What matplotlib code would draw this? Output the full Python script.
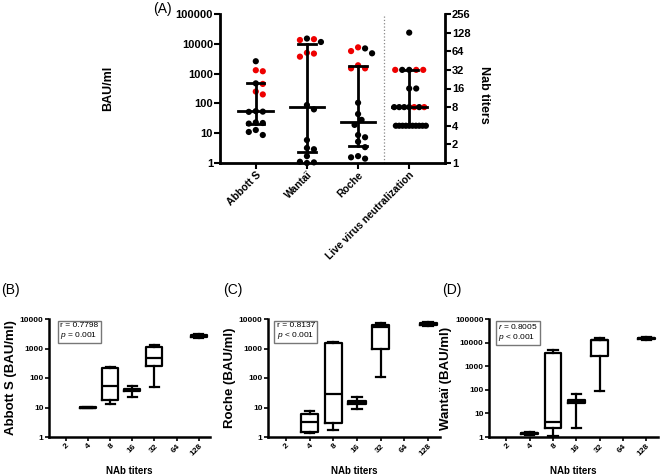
import matplotlib
matplotlib.use("Agg")
import matplotlib.pyplot as plt
import numpy as np
from matplotlib.ticker import FixedLocator, NullLocator, NullFormatter

plt.rcParams['font.family'] = ['Liberation Sans', 'DejaVu Sans']
plt.rcParams['mathtext.fontset'] = 'custom'
plt.rcParams['mathtext.it'] = 'Liberation Sans:italic'
plt.rcParams['mathtext.rm'] = 'Liberation Sans'

# ---- panel A data ----
assays = ['Abbott S', 'Wantaï', 'Roche', 'Live virus neutralization']
abbott = [2600, 1300, 1200, 470, 450, 250, 200, 55, 53, 52, 23, 22, 21, 12.8, 8.7, 11]
abbott_red = [0, 1, 1, 0, 1, 1, 1, 0, 0, 0, 0, 0, 0, 0, 0, 0]
wantai = [15000, 14300, 13400, 11500, 5000, 4700, 3700, 88, 63, 5.9, 3.2, 2.9, 1.7, 1.0, 1.05, 1.1]
wantai_red = [0, 1, 1, 0, 1, 1, 1, 0, 0, 0, 0, 0, 0, 0, 0, 0]
roche = [7600, 7000, 5700, 4800, 1900, 1500, 1500, 105, 44, 28, 19, 8.7, 7.3, 5.2, 3.4, 1.7, 1.4, 1.55]
roche_red = [1, 0, 1, 0, 1, 1, 1, 0, 0, 0, 0, 0, 0, 0, 0, 0, 0, 0]
live = [128, 32, 32, 32, 32, 32, 16, 16, 8, 8, 8, 8, 8, 8, 8,
        4, 4, 4, 4, 4, 4, 4, 4, 4, 4]
live_red = [0, 0, 1, 0, 1, 1, 0, 0, 0, 1, 0, 0, 0, 1, 0,
            0, 0, 0, 0, 0, 0, 0, 0, 0, 0]
medians = [55, 75, 24, 8]
q1s = [21, 2.4, 3.7, 4]
q3s = [500, 10000, 1800, 32]

# ---- panels B-D data: (whislo, q1, med, q3, whishi) per NAb titer ----
titers = ['2', '4', '8', '16', '32', '64', '128']
abbott_box = {'4': (9.4, 9.7, 10, 10.3, 10.6), '8': (13, 18, 55, 210, 240),
              '16': (22, 35, 38, 42, 55), '32': (48, 260, 480, 1150, 1300),
              '128': (2300, 2450, 2600, 2800, 3100)}
roche_box = {'4': (1.4, 1.5, 3.2, 6, 7.5), '8': (1.7, 2.9, 28, 1550, 1700),
             '16': (9, 13, 15, 17, 22), '32': (105, 1000, 5200, 6500, 7500),
             '128': (6000, 6500, 7000, 7300, 7800)}
wantai_box = {'4': (1.2, 1.35, 1.45, 1.55, 1.65), '8': (1.1, 2.4, 4.5, 3800, 5000),
              '16': (2.3, 28, 32, 36, 65), '32': (88, 2700, 12500, 13500, 15000),
              '128': (13000, 14000, 15000, 16000, 18000)}

W, H = 667, 476
fig = plt.figure(figsize=(W / 100, H / 100), dpi=100)


def swarm(ax, x0, vals, step, maxw):
    # greedy beeswarm in pixel space; rows of ties are squeezed into maxw
    pix = ax.transData.transform([(x0, v) for v in vals])
    placed = []
    for px, py in pix:
        k = 0
        while True:
            cands = [0] if k == 0 else [k * step * 0.5, -k * step * 0.5]
            ok = None
            for dx in cands:
                if all((px + dx - qx) ** 2 + (py - qy) ** 2 >= (step * 0.95) ** 2 for qx, qy in placed):
                    ok = dx
                    break
            if ok is not None:
                placed.append([px + ok, py])
                break
            k += 1
    # squeeze wide rows
    placed = np.array(placed)
    for y in np.unique(np.round(placed[:, 1], 1)):
        m = np.abs(placed[:, 1] - y) < 0.5
        span = placed[m, 0].max() - placed[m, 0].min()
        if span > maxw:
            cx = pix[0][0]
            placed[m, 0] = cx + (placed[m, 0] - cx) * maxw / span
    inv = ax.transData.inverted()
    return [inv.transform(p)[0] for p in placed]


# ---- panel A ----
ax = fig.add_axes([220 / W, 1 - 163 / H, 225 / W, 149 / H])
ax.set_yscale('log')
ax.set_ylim(1, 100000)
ax.set_xlim(-0.7, 3.7)
ax2 = ax.twinx()
ax2.set_yscale('log', base=2)
ax2.set_ylim(1, 256)

bold = dict(fontweight='bold')
for a in (ax, ax2):
    a.spines['top'].set_visible(False)
    for s in ['left', 'right', 'bottom']:
        a.spines[s].set_linewidth(2)
ax.spines['right'].set_visible(False)
ax2.spines['left'].set_visible(False)
ax2.spines['bottom'].set_visible(False)

ax.set_xticks(range(4))
ax.set_xticklabels(assays, rotation=45, ha='right', rotation_mode='anchor', fontsize=7.5, **bold)
ax.set_yticks([1, 10, 100, 1000, 10000, 100000])
ax.set_yticklabels(['1', '10', '100', '1000', '10000', '100000'], fontsize=8, **bold)
ax.tick_params(axis='both', which='major', length=4, width=1.5, pad=1)
ax.tick_params(axis='y', which='minor', length=2, width=0.8)
ax.set_ylabel('BAU/ml', fontsize=9, **bold)
ax.yaxis.set_label_coords(-0.47, 0.5)

ticks2 = [1, 2, 4, 8, 16, 32, 64, 128, 256]
ax2.yaxis.set_major_locator(FixedLocator(ticks2))
ax2.yaxis.set_minor_locator(NullLocator())
ax2.set_yticklabels([str(t) for t in ticks2], fontsize=8, **bold)
ax2.tick_params(axis='y', length=4, width=1.5, pad=1)
ax2.set_ylabel('Nab titers', fontsize=9, rotation=270, **bold)
ax2.yaxis.set_label_coords(1.2, 0.46)

ax.axvline(2.5, color='#888888', lw=0.9, ls=':')

groups = [(ax, abbott, abbott_red), (ax, wantai, wantai_red), (ax, roche, roche_red), (ax2, live, live_red)]
for i, (a, vals, red) in enumerate(groups):
    xs = swarm(a, i, vals, 7.0, 30)
    cols = ['#ee0000' if r else 'black' for r in red]
    a.scatter(xs, vals, s=20, c=cols, edgecolors='none', zorder=3, clip_on=False)
    a.plot([i, i], [q1s[i], q3s[i]], color='black', lw=2, zorder=4)
    a.plot([i - 0.34, i + 0.34], [medians[i], medians[i]], color='black', lw=2, zorder=4)
    for q in (q1s[i], q3s[i]):
        a.plot([i - 0.17, i + 0.17], [q, q], color='black', lw=2, zorder=4)

fig.text(153 / W, 1 - 2 / H, '(A)', fontsize=10, va='top')

# ---- panels B-D ----
panels = [('(B)', 'Abbott S (BAU/ml)', abbott_box, 49, 210, 10000, 'r = 0.7798', '$\\it{p}$ = 0.001', 0.07, 1),
          ('(C)', 'Roche (BAU/ml)', roche_box, 268, 440, 10000, 'r = 0.8137', '$\\it{p}$ < 0.001', 0.05, 223),
          ('(D)', 'Wantaï (BAU/ml)', wantai_box, 489, 658, 100000, '$\\it{r}$ = 0.8005', '$\\it{p}$ < 0.001', 0.055, 442)]

for tag, ylab, data, x0, x1, ytop, rtxt, ptxt, bx, tx in panels:
    b = fig.add_axes([x0 / W, 1 - 437 / H, (x1 - x0) / W, 118 / H])
    b.set_yscale('log')
    b.set_ylim(1, ytop)
    b.set_xlim(-0.75, 6.5)
    stats = []
    pos = []
    for j, t in enumerate(titers):
        if t in data:
            lo, q1, med, q3, hi = data[t]
            stats.append(dict(whislo=lo, q1=q1, med=med, q3=q3, whishi=hi, fliers=[]))
            pos.append(j)
    lp = dict(color='black', linewidth=1.6)
    b.bxp(stats, positions=pos, widths=0.72, capwidths=0.4, showfliers=False,
          boxprops=lp, whiskerprops=lp, capprops=lp, medianprops=lp)
    b.set_xticks(range(len(titers)))
    b.set_xticklabels(titers, rotation=45, ha='right', rotation_mode='anchor', fontsize=6, **bold)
    decades = [10 ** k for k in range(int(np.log10(ytop)) + 1)]
    b.yaxis.set_major_locator(FixedLocator(decades))
    b.yaxis.set_minor_locator(NullLocator())
    b.yaxis.set_minor_formatter(NullFormatter())
    b.set_yticklabels([str(d) for d in decades], fontsize=6, **bold)
    b.tick_params(axis='both', length=3, width=1.2, pad=1)
    for s in ['top', 'right']:
        b.spines[s].set_visible(False)
    for s in ['left', 'bottom']:
        b.spines[s].set_linewidth(1.8)
    b.set_ylabel(ylab, fontsize=9.5, labelpad=2, **bold)
    b.set_xlabel('NAb titers', fontsize=7, labelpad=6, **bold)
    b.text(bx, 0.975, rtxt + '\n' + ptxt, transform=b.transAxes, fontsize=6, va='top', ha='left',
           linespacing=1.1,
           bbox=dict(boxstyle='square,pad=0.3', facecolor='white', edgecolor='#777777', lw=1))
    fig.text(tx / W, 1 - 283 / H, tag, fontsize=10, va='top')

fig.savefig('out.png', dpi=100)
